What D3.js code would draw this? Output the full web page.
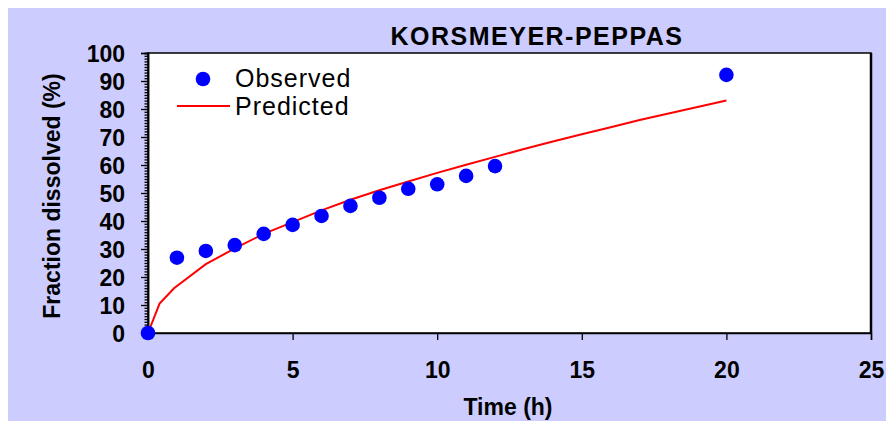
<!DOCTYPE html>
<html lang="en">
<head>
    <meta charset="UTF-8">
    <title>Korsmeyer-Peppas</title>
    <style>
        body { margin: 0; background: #fff; }
        text { font-family: Arial, "Liberation Sans", sans-serif; }
    </style>
</head>
<body>
    <div id="chart"></div>

    <script src="https://d3js.org/d3.v7.min.js"></script>
    <script type="text/javascript">
// observed points
const obsTime = [0, 1, 2, 3, 4, 5, 6, 7, 8, 9, 10, 11, 12, 20];
const obsValue = [0, 26.9, 29.3, 31.4, 35.4, 38.6, 41.8, 45.4, 48.3, 51.5, 53.1, 56.1, 59.6, 92.2];

// predicted curve
const predTime = [0, 0.4, 0.9, 2, 3, 4, 5, 6, 7, 8, 9, 10, 11, 12, 13, 14, 15, 16, 17, 18, 19, 20];
const predValue = [0, 10.5, 16, 24.6, 30.2, 35.4, 39.6, 43.8, 47.6, 51.0, 54.1, 57.2, 60.1, 62.9, 65.7, 68.4, 71.0, 73.5, 76.1, 78.4, 80.7, 83.0];

const xTicks = [0, 5, 10, 15, 20, 25];
const yTicks = [0, 10, 20, 30, 40, 50, 60, 70, 80, 90, 100];

const W = 886, H = 421;
const margin = { top: 53, right: 15, bottom: 88, left: 148 };
const width = W - margin.left - margin.right;
const height = H - margin.top - margin.bottom;

const root = d3.select("#chart")
    .append("svg")
    .attr("width", W)
    .attr("height", H);

// lavender background
root.append("rect")
    .attr("x", 8).attr("y", 8)
    .attr("width", W - 8).attr("height", H - 8)
    .attr("fill", "#ccccff");

const svg = root.append("g")
    .attr("transform", `translate(${margin.left},${margin.top})`);

const x = d3.scaleLinear().domain([0, 25]).range([0, width]);
const y = d3.scaleLinear().domain([0, 100]).range([height, 0]);

svg.append("rect")
    .attr("width", width).attr("height", height)
    .attr("fill", "#fff")
    .attr("stroke", "#000")
    .attr("stroke-width", 1.5);
// right edge is a bit heavier in the original
svg.append("line")
    .attr("x1", width).attr("x2", width)
    .attr("y1", 0).attr("y2", height)
    .attr("stroke", "#000").attr("stroke-width", 2.5);

// y axis: minor ticks every 1, major every 10
const yMinor = svg.append("g")
    .call(d3.axisLeft(y).ticks(100).tickSize(3.5).tickFormat(""));
const yAxis = svg.append("g")
    .call(d3.axisLeft(y).tickValues(yTicks).tickSize(7).tickPadding(16));
const xAxis = svg.append("g")
    .attr("transform", `translate(0,${height})`)
    .call(d3.axisBottom(x).tickValues(xTicks).tickSize(7).tickPadding(22));

[yMinor, yAxis, xAxis].forEach(function(g) {
    g.select(".domain").attr("stroke-width", 1.5);
    g.selectAll(".tick line").attr("stroke-width", 1.3);
});
yAxis.selectAll("text").style("font-size", "23px").style("font-weight", "bold").attr("dy", "0.36em");
xAxis.selectAll("text").style("font-size", "23px").style("font-weight", "bold");

// predicted line
const pred = predTime.map(function(t, i) { return [t, predValue[i]]; });
svg.append("path")
    .datum(pred)
    .attr("fill", "none")
    .attr("stroke", "#ff0000")
    .attr("stroke-width", 2)
    .attr("d", d3.line().x(d => x(d[0])).y(d => y(d[1])));

// observed points
const obs = obsTime.map(function(t, i) { return [t, obsValue[i]]; });
svg.selectAll(".point")
    .data(obs)
    .enter()
    .append("circle")
    .attr("class", "point")
    .attr("cx", d => x(d[0]))
    .attr("cy", d => y(d[1]))
    .attr("r", 7.3)
    .attr("fill", "#0000ff");

// title and axis labels
root.append("text")
    .attr("x", 537).attr("y", 45)
    .attr("text-anchor", "middle")
    .style("font-size", "25px").style("font-weight", "bold")
    .style("letter-spacing", "1.5px")
    .text("KORSMEYER-PEPPAS");

root.append("text")
    .attr("x", 508).attr("y", 415)
    .attr("text-anchor", "middle")
    .style("font-size", "23px").style("font-weight", "bold")
    .text("Time (h)");

root.append("text")
    .attr("transform", "translate(60,196) rotate(-90)")
    .attr("text-anchor", "middle")
    .style("font-size", "23px").style("font-weight", "bold")
    .text("Fraction dissolved (%)");

// legend
root.append("circle")
    .attr("cx", 203).attr("cy", 79).attr("r", 7.3)
    .attr("fill", "#0000ff");
root.append("text")
    .attr("x", 235).attr("y", 87)
    .style("font-size", "25px").style("letter-spacing", "1px")
    .text("Observed");
root.append("line")
    .attr("x1", 177).attr("x2", 230)
    .attr("y1", 106).attr("y2", 106)
    .attr("stroke", "#ff0000").attr("stroke-width", 2);
root.append("text")
    .attr("x", 235).attr("y", 115)
    .style("font-size", "25px").style("letter-spacing", "1px")
    .text("Predicted");
</script>
</body>
</html>
